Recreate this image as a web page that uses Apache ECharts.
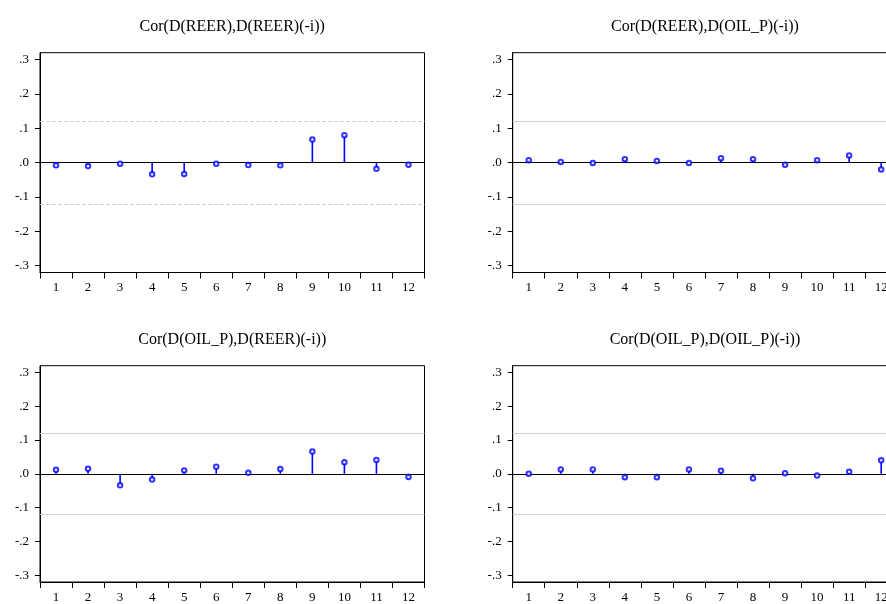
<!DOCTYPE html>
<html>
<head>
<meta charset="utf-8">
<script src="https://cdn.jsdelivr.net/npm/echarts@6/dist/echarts.min.js"></script>
<style>
  html, body { margin: 0; padding: 0; background: #fff; overflow: hidden; }
  #chart { width: 900px; height: 604px; }
</style>
</head>
<body>
<div id="chart"></div>
<script>
// Cross-correlogram of differenced REER and OIL_P, lags 1..12
const lags = ['1', '2', '3', '4', '5', '6', '7', '8', '9', '10', '11', '12'];
const yTicks = [-0.3, -0.2, -0.1, 0.0, 0.1, 0.2, 0.3];
const confBand = 0.116;

const titles = [
  'Cor(D(REER),D(REER)(-i))',
  'Cor(D(REER),D(OIL_P)(-i))',
  'Cor(D(OIL_P),D(REER)(-i))',
  'Cor(D(OIL_P),D(OIL_P)(-i))'
];

const corReerReer = [-0.008, -0.010, -0.003, -0.034, -0.033, -0.003, -0.007, -0.008, 0.067, 0.080, -0.018, -0.006];
const corReerOil  = [0.007, 0.002, -0.001, 0.010, 0.005, -0.001, 0.013, 0.010, -0.006, 0.007, 0.021, -0.020];
const corOilReer  = [0.012, 0.015, -0.034, -0.017, 0.010, 0.021, 0.003, 0.014, 0.066, 0.034, 0.041, -0.009];
const corOilOil   = [0.000, 0.013, 0.013, -0.010, -0.010, 0.013, 0.009, -0.013, 0.002, -0.005, 0.006, 0.040];

const panels = [corReerReer, corReerOil, corOilReer, corOilOil];

// Panel frames (left, top) in pixels; the right column runs past the page edge
const frames = [
  { left: 40, top: 52.7 },
  { left: 512.7, top: 52.7 },
  { left: 40, top: 365.7 },
  { left: 512.7, top: 365.7 }
];
const frameW = 384.5;
const frameH = 219.8;

const FONT = '"Liberation Serif", "Times New Roman", serif';
const BLUE = '#0000ff';

const chart = echarts.init(document.getElementById('chart'), null, { renderer: 'canvas' });

const fmt = v => {
  const s = Number(v).toFixed(1);
  return s.replace(/^(-?)0\./, '$1.');
};

const grid = frames.map(f => ({
  left: f.left, top: f.top, width: frameW, height: frameH,
  show: true, borderColor: '#000', borderWidth: 1, backgroundColor: 'transparent',
  containLabel: false
}));

const xAxis = frames.map((f, i) => ({
  type: 'category', gridIndex: i, data: lags, boundaryGap: true, position: 'bottom',
  axisLine: { show: true, onZero: false, lineStyle: { color: '#000', width: 1 } },
  axisTick: { show: true, length: 6, lineStyle: { color: '#000' } },
  axisLabel: { color: '#000', fontFamily: FONT, fontSize: 13, margin: 9 },
  splitLine: { show: false }
}));

const yAxis = frames.map((f, i) => ({
  type: 'value', gridIndex: i, min: -0.32, max: 0.32,
  axisLine: { show: true, lineStyle: { color: '#000', width: 1 } },
  axisTick: { show: true, length: 5, customValues: yTicks, lineStyle: { color: '#000' } },
  axisLabel: { color: '#000', fontFamily: FONT, fontSize: 13, margin: 11, customValues: yTicks, formatter: fmt },
  splitLine: { show: false }
}));

const series = [];
panels.forEach((vals, i) => {
  series.push({
    type: 'bar', xAxisIndex: i, yAxisIndex: i, data: vals,
    barWidth: 1.6, itemStyle: { color: BLUE }, silent: true,
    markLine: {
      silent: true, symbol: 'none', label: { show: false },
      data: [
        { yAxis: confBand, lineStyle: { color: '#d0d0d0', width: 1, type: i === 0 ? 'dashed' : 'solid' } },
        { yAxis: -confBand, lineStyle: { color: '#d0d0d0', width: 1, type: i === 0 ? 'dashed' : 'solid' } },
        { yAxis: 0, lineStyle: { color: '#000', width: 1.2, type: 'solid' } }
      ]
    }
  });
  series.push({
    type: 'scatter', xAxisIndex: i, yAxisIndex: i, data: vals,
    symbol: 'emptyCircle', symbolSize: 4.5,
    itemStyle: { color: BLUE, borderColor: BLUE, borderWidth: 1.2 },
    silent: true, z: 5
  });
});

const graphic = frames.map((f, i) => ({
  type: 'text',
  x: f.left + frameW / 2,
  y: f.top - 26,
  style: {
    text: titles[i], fill: '#000', font: '16px ' + FONT,
    align: 'center', verticalAlign: 'middle'
  }
}));

chart.setOption({
  animation: false,
  backgroundColor: '#fff',
  grid, xAxis, yAxis, series, graphic
});
</script>
</body>
</html>
